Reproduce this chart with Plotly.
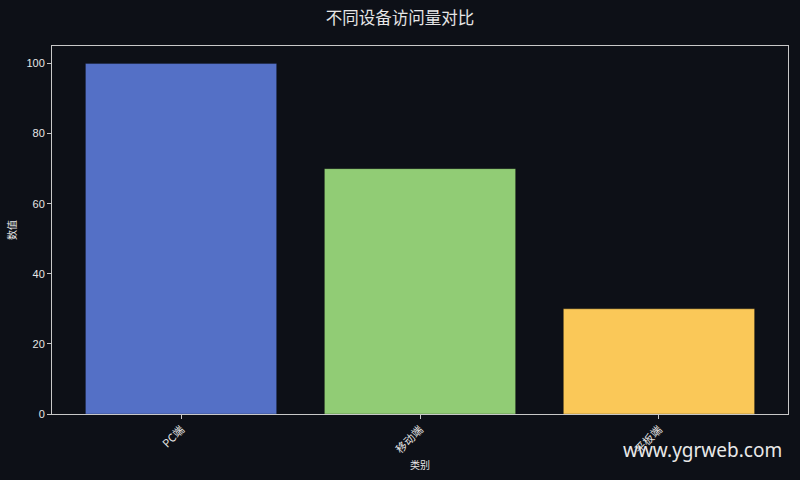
import plotly.graph_objects as go

categories = ['PC端', '移动端', '平板端']
values = [100, 70, 30]
colors = ['#5470c6', '#91cc75', '#fac858']

bg = '#0d1017'
fg = '#e6e6e6'

fig = go.Figure()
fig.add_trace(go.Bar(x=categories, y=values, width=0.8,
                     marker=dict(color=colors, line=dict(color='rgba(0,0,0,0.25)', width=1))))

fig.update_layout(
    width=800, height=480,
    paper_bgcolor=bg, plot_bgcolor=bg,
    margin=dict(l=52, r=12, t=46, b=66),
    font=dict(family='Noto Sans CJK SC, DejaVu Sans', color=fg, size=11),
    title=dict(text='不同设备访问量对比', x=0.5, xanchor='center', y=0.962, yanchor='middle',
               font=dict(size=16.5, color=fg)),
    showlegend=False,
    bargap=0.2,
)
fig.update_xaxes(
    title=dict(text='类别', font=dict(size=10, color=fg), standoff=6),
    range=[-0.54, 2.54], tickangle=-45,
    showline=True, mirror=True, linecolor='#c8c8c8', linewidth=1,
    ticks='outside', ticklen=4, tickcolor='#c8c8c8', showgrid=False,
    tickfont=dict(size=11, color=fg),
)
fig.update_yaxes(
    title=dict(text='数值', font=dict(size=10, color=fg), standoff=7),
    range=[0, 105], tickvals=[0, 20, 40, 60, 80, 100],
    showline=True, mirror=True, linecolor='#c8c8c8', linewidth=1,
    ticks='outside', ticklen=4, tickcolor='#c8c8c8', showgrid=False, zeroline=False,
    tickfont=dict(size=11, color=fg, family='Liberation Sans, Arial'),
)
fig.add_annotation(text='www.ygrweb.com', xref='paper', yref='paper', x=0.994, y=-0.097,
                   xanchor='right', yanchor='middle', showarrow=False,
                   font=dict(size=19, color='#e8e8e8', family='Noto Sans'))

fig.write_html("out.html", config={'displayModeBar': False},
               post_script="document.body.style.margin='0';")
